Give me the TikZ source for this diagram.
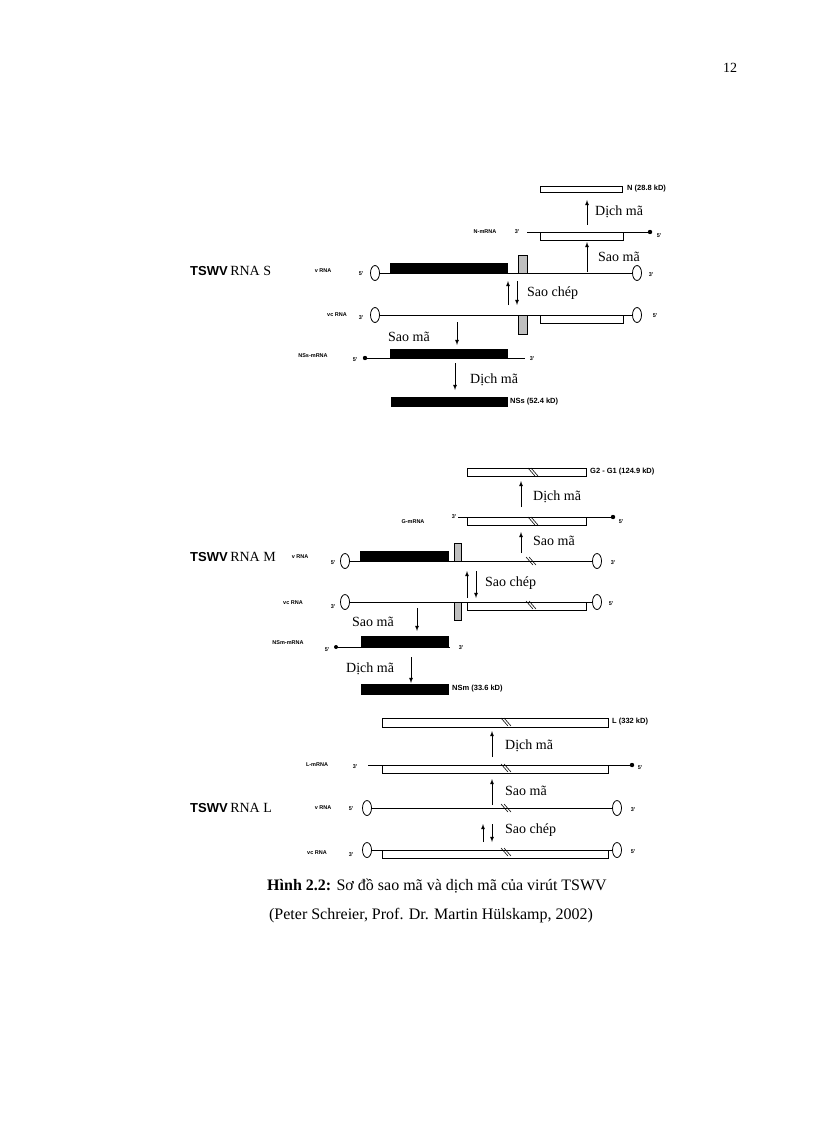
\documentclass[tikz,border=0pt]{standalone}
\usepackage{fontspec}
\setmainfont{Liberation Serif}
\newfontfamily\lab{Liberation Sans}
\usetikzlibrary{shapes.geometric}
\tikzset{
 oval/.style={draw,ellipse,fill=white,minimum width=9pt,minimum height=15pt,inner sep=0pt,line width=0.8pt},
 tiny/.style={font=\lab\bfseries\fontsize{5.5}{6}\selectfont,inner sep=0pt},
 plab/.style={font=\lab\bfseries\fontsize{7.5}{8}\selectfont,inner sep=0pt,anchor=west},
 proc/.style={font=\fontsize{14}{16}\selectfont,inner sep=0pt,anchor=west},
 strand/.style={line width=0.8pt},
 blackbox/.style={fill=black,draw=black},
 whitebox/.style={draw=black,fill=white,line width=0.6pt},
 graybox/.style={draw=black,fill=gray!50,line width=0.5pt},
 arr/.style={-latex,line width=0.8pt},
 title/.style={anchor=west,inner sep=0pt},
}
\newcommand{\slsh}[2]{\draw[line width=0.6pt] (#1-4,#2-4)--(#1+3,#2+4) (#1-1,#2-4)--(#1+6,#2+4);}
\begin{document}
\begin{tikzpicture}[x=1pt,y=-1pt]
\useasboundingbox (0,0) rectangle (816,1123);
\node[font=\fontsize{14}{16}\selectfont] (page) at (730,68) {12};
% ================= S =================
\node[title] (tS) at (190,271) {{\lab\bfseries\fontsize{13}{14}\selectfont TSWV} {\fontsize{14}{16}\selectfont RNA S}};
\draw[whitebox] (540,186) rectangle (622,192);
\node[plab] (Np) at (627,189) {N (28.8 kD)};
\coordinate (sNa) at (587,225); \coordinate (sNb) at (587,200);
\draw[arr] (sNa)--(sNb);
\node[proc] (sd1) at (595,212) {Dịch mã};
\draw[whitebox] (540,232) rectangle (623,240);
\draw[strand] (527,232)--(650,232);
\fill (650,232) circle (2.2pt);
\node[tiny] (nm) at (485,232) {N-mRNA};
\node[tiny] (nm3) at (517,232) {3'};
\node[tiny] (nm5) at (659,236) {5'};
\coordinate (sSa) at (587,272); \coordinate (sSb) at (587,242);
\draw[arr] (sSa)--(sSb);
\node[proc] (ss1) at (598,257) {Sao mã};
% vRNA
\draw[strand] (375,273)--(637,273);
\draw[blackbox] (390,263) rectangle (507,273);
\draw[graybox] (518,255) rectangle (527,273);
\node[oval] (sv1) at (375,273) {};
\node[oval] (sv2) at (637,273) {};
\node[tiny] (svl) at (323,271) {v RNA};
\node[tiny] (sv5) at (361,274) {5'};
\node[tiny] (sv3) at (651,275) {3'};
\coordinate (sCa) at (508,305); \coordinate (sCb) at (508,281);
\coordinate (sCc) at (517,281); \coordinate (sCd) at (517,305);
\draw[arr] (sCa)--(sCb); \draw[arr] (sCc)--(sCd);
\node[proc] (sc1) at (527,293) {Sao chép};
% vcRNA
\draw[strand] (375,315)--(637,315);
\draw[graybox] (518,315) rectangle (527,334);
\draw[whitebox] (540,315) rectangle (623,323);
\node[oval] (sc1o) at (375,315) {};
\node[oval] (sc2o) at (637,315) {};
\node[tiny] (scl) at (337,315) {vc RNA};
\node[tiny] (sc3) at (361,318) {3'};
\node[tiny] (sc5) at (655,316) {5'};
\coordinate (sMa) at (457,322); \coordinate (sMb) at (457,345);
\draw[arr] (sMa)--(sMb);
\node[proc] (sm2) at (388,337) {Sao mã};
% NSs mRNA
\draw[strand] (365,358)--(525,358);
\fill (365,358) circle (2.2pt);
\draw[blackbox] (390,349) rectangle (507,358);
\node[tiny] (nsm) at (313,356) {NSs-mRNA};
\node[tiny] (ns5) at (355,360) {5'};
\node[tiny] (ns3) at (532,359) {3'};
\coordinate (sDa) at (455,363); \coordinate (sDb) at (455,390);
\draw[arr] (sDa)--(sDb);
\node[proc] (sd2) at (470,380) {Dịch mã};
\draw[blackbox] (391,397) rectangle (507,406);
\node[plab] (NSs) at (510,402) {NSs (52.4 kD)};
% ================= M =================
\node[title] (tM) at (190,557) {{\lab\bfseries\fontsize{13}{14}\selectfont TSWV} {\fontsize{14}{16}\selectfont RNA M}};
\draw[whitebox] (467,468) rectangle (586,476);
\slsh{532}{472}
\node[plab] (G) at (590,472) {G2 - G1 (124.9 kD)};
\coordinate (mGa) at (521,507); \coordinate (mGb) at (521,481);
\draw[arr] (mGa)--(mGb);
\node[proc] (md1) at (533,497) {Dịch mã};
\draw[whitebox] (467,517) rectangle (586,525);
\draw[strand] (458,517)--(613,517);
\fill (613,517) circle (2.2pt);
\slsh{532}{521}
\node[tiny] (gm) at (413,522) {G-mRNA};
\node[tiny] (gm3) at (454,517) {3'};
\node[tiny] (gm5) at (621,522) {5'};
\coordinate (mSa) at (521,553); \coordinate (mSb) at (521,532);
\draw[arr] (mSa)--(mSb);
\node[proc] (ms1) at (533,541) {Sao mã};
\draw[strand] (345,561)--(597,561);
\draw[blackbox] (360,551) rectangle (448,561);
\draw[graybox] (454,543) rectangle (461,561);
\slsh{530}{561}
\node[oval] (mv1) at (345,561) {};
\node[oval] (mv2) at (597,561) {};
\node[tiny] (mvl) at (300,557) {v RNA};
\node[tiny] (mv5) at (333,563) {5'};
\node[tiny] (mv3) at (613,563) {3'};
\coordinate (mCa) at (467,598); \coordinate (mCb) at (467,571);
\coordinate (mCc) at (476,571); \coordinate (mCd) at (476,598);
\draw[arr] (mCa)--(mCb); \draw[arr] (mCc)--(mCd);
\node[proc] (mc1) at (485,583) {Sao chép};
\draw[strand] (345,602)--(597,602);
\draw[graybox] (454,602) rectangle (461,620);
\draw[whitebox] (467,602) rectangle (586,610);
\slsh{530}{605}
\node[oval] (mc1o) at (345,602) {};
\node[oval] (mc2o) at (597,602) {};
\node[tiny] (mcl) at (293,603) {vc RNA};
\node[tiny] (mc3) at (333,607) {3'};
\node[tiny] (mc5) at (611,604) {5'};
\coordinate (mMa) at (417,608); \coordinate (mMb) at (417,631);
\draw[arr] (mMa)--(mMb);
\node[proc] (ms2) at (352,622) {Sao mã};
\draw[strand] (336,647)--(450,647);
\fill (336,647) circle (2pt);
\draw[blackbox] (361,636) rectangle (448,647);
\node[tiny] (nsmm) at (288,643) {NSm-mRNA};
\node[tiny] (nsm5) at (327,650) {5'};
\node[tiny] (nsm3) at (461,648) {3'};
\coordinate (mDa) at (411,657); \coordinate (mDb) at (411,683);
\draw[arr] (mDa)--(mDb);
\node[proc] (md2) at (346,669) {Dịch mã};
\draw[blackbox] (361,684) rectangle (448,694);
\node[plab] (NSm) at (452,689) {NSm (33.6 kD)};
% ================= L =================
\node[title] (tL) at (190,808) {{\lab\bfseries\fontsize{13}{14}\selectfont TSWV} {\fontsize{14}{16}\selectfont RNA L}};
\draw[whitebox] (382,718) rectangle (608,727);
\slsh{505}{722}
\node[plab] (Lp) at (612,722) {L (332 kD)};
\coordinate (lDa) at (492,757); \coordinate (lDb) at (492,731);
\draw[arr] (lDa)--(lDb);
\node[proc] (ld1) at (505,746) {Dịch mã};
\draw[whitebox] (382,765) rectangle (608,773);
\draw[strand] (368,765)--(632,765);
\fill (632,765) circle (2.2pt);
\slsh{505}{768}
\node[tiny] (lm) at (317,765) {L-mRNA};
\node[tiny] (lm3) at (355,767) {3'};
\node[tiny] (lm5) at (640,768) {5'};
\coordinate (lSa) at (492,805); \coordinate (lSb) at (492,779);
\draw[arr] (lSa)--(lSb);
\node[proc] (ls1) at (505,791) {Sao mã};
\draw[strand] (367,808)--(617,808);
\slsh{505}{808}
\node[oval] (lv1) at (367,808) {};
\node[oval] (lv2) at (617,808) {};
\node[tiny] (lvl) at (323,808) {v RNA};
\node[tiny] (lv5) at (351,809) {5'};
\node[tiny] (lv3) at (633,810) {3'};
\coordinate (lCa) at (483,842); \coordinate (lCb) at (483,824);
\coordinate (lCc) at (492,824); \coordinate (lCd) at (492,842);
\draw[arr] (lCa)--(lCb); \draw[arr] (lCc)--(lCd);
\node[proc] (lc1) at (505,830) {Sao chép};
\draw[whitebox] (382,850) rectangle (608,858);
\draw[strand] (367,850)--(617,850);
\slsh{505}{852}
\node[oval] (lc1o) at (367,850) {};
\node[oval] (lc2o) at (617,850) {};
\node[tiny] (lcl) at (317,853) {vc RNA};
\node[tiny] (lc3) at (351,855) {3'};
\node[tiny] (lc5) at (633,852) {5'};
% caption
\node[font=\fontsize{16}{18}\selectfont] (cap1) at (437,886) {\textbf{Hình 2.2:} Sơ đồ sao mã và dịch mã của virút TSWV};
\node[font=\fontsize{16}{18}\selectfont] (cap2) at (431,916) {(Peter Schreier, Prof. Dr. Martin Hülskamp, 2002)};
\end{tikzpicture}
\end{document}
